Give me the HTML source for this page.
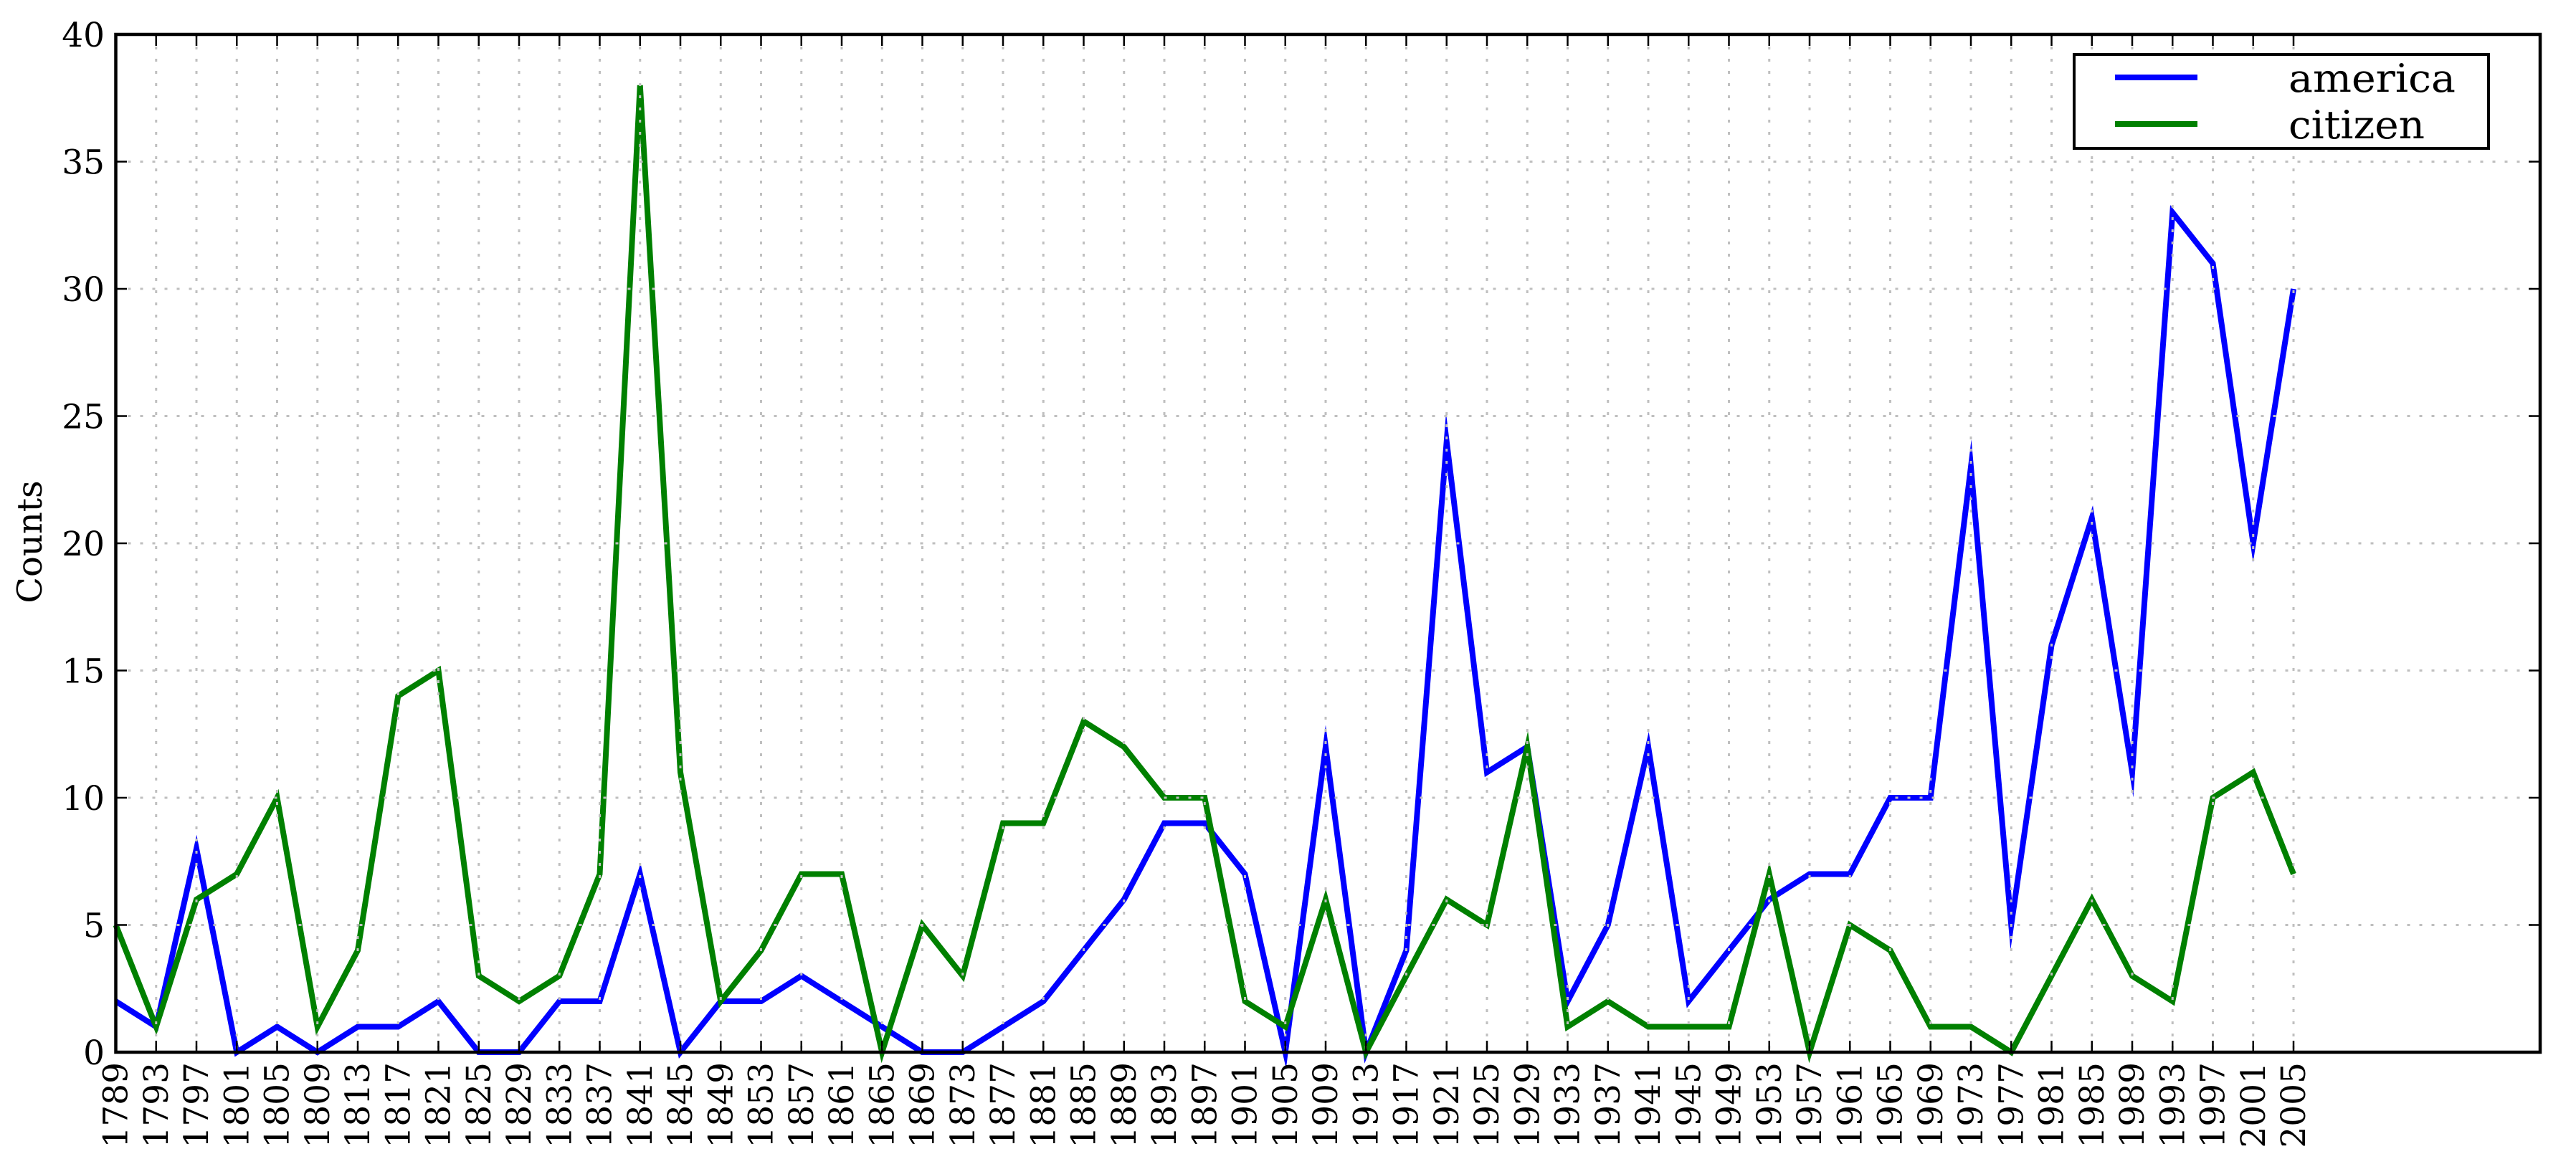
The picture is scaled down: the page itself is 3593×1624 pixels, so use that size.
<!DOCTYPE html>
<html><head><meta charset="utf-8"><style>html,body{margin:0;padding:0;background:#fff}svg{display:block}</style></head>
<body>
<svg id="s" xmlns="http://www.w3.org/2000/svg" width="3593" height="1624" viewBox="0 0 3593 1624" font-family="'DejaVu Serif','Liberation Serif',serif">
<rect width="3593" height="1624" fill="#fff"/>
<g id="series"></g>
<g id="grid" stroke="#bfbfbf" stroke-width="3" stroke-dasharray="4 13"></g>
<g id="ticks" stroke="#000" stroke-width="2.5"></g>
<rect x="161.5" y="48" width="3381.5" height="1420" fill="none" stroke="#000" stroke-width="4.5"/>
<g id="labels" font-size="47" fill="#000"></g>
<text transform="translate(58,756) rotate(-90)" text-anchor="middle" font-size="48">Counts</text>
<rect x="2893" y="76" width="578" height="131" fill="#fff" stroke="#000" stroke-width="4"/>
<line x1="2950" y1="108" x2="3065" y2="108" stroke="#0000ff" stroke-width="8"/>
<line x1="2950" y1="173" x2="3065" y2="173" stroke="#008000" stroke-width="8"/>
<text x="3192" y="128" font-size="54" textLength="233" lengthAdjust="spacingAndGlyphs">america</text>
<text x="3192" y="193" font-size="54" textLength="190" lengthAdjust="spacingAndGlyphs">citizen</text>
</svg>
<script>
var A=[2,1,8,0,1,0,1,1,2,0,0,2,2,7,0,2,2,3,2,1,0,0,1,2,4,6,9,9,7,0,12,0,4,24,11,12,2,5,12,2,4,6,7,7,10,10,23,5,16,21,11,33,31,20,30];
var C=[5,1,6,7,10,1,4,14,15,3,2,3,7,38,11,2,4,7,7,0,5,3,9,9,13,12,10,10,2,1,6,0,3,6,5,12,1,2,1,1,1,7,0,5,4,1,1,0,3,6,3,2,10,11,7];
var X0=161.5,DX=56.25,Y0=1468,DY=35.5,NS="http://www.w3.org/2000/svg";
function el(p,t,a){var e=document.createElementNS(NS,t);for(var k in a)e.setAttribute(k,a[k]);p.appendChild(e);return e;}
var ser=document.getElementById('series');
function poly(d,c){el(ser,'polyline',{points:d.map(function(v,i){return (X0+i*DX)+','+(Y0-v*DY)}).join(' '),fill:'none',stroke:c,'stroke-width':8,'stroke-linejoin':'miter','stroke-miterlimit':10});}
poly(A,'#0000ff');poly(C,'#008000');
var g=document.getElementById('grid'),t=document.getElementById('ticks'),L=document.getElementById('labels');
for(var i=0;i<55;i++){var x=X0+i*DX;
 if(i>0){el(g,'line',{x1:x,y1:48,x2:x,y2:1468});}
 el(t,'line',{x1:x,y1:1468,x2:x,y2:1452});el(t,'line',{x1:x,y1:48,x2:x,y2:64});
 var tx=el(L,'text',{transform:'translate('+(x+16)+',1482) rotate(-90)','text-anchor':'end'});tx.textContent=1789+4*i;}
for(var v=0;v<=40;v+=5){var y=Y0-v*DY;
 if(v>0&&v<40){el(g,'line',{x1:161.5,y1:y,x2:3543,y2:y});}
 el(t,'line',{x1:161.5,y1:y,x2:177,y2:y});el(t,'line',{x1:3543,y1:y,x2:3527,y2:y});
 var ty=el(L,'text',{x:146,y:y+17,'text-anchor':'end'});ty.textContent=v;}
</script>
</body></html>
